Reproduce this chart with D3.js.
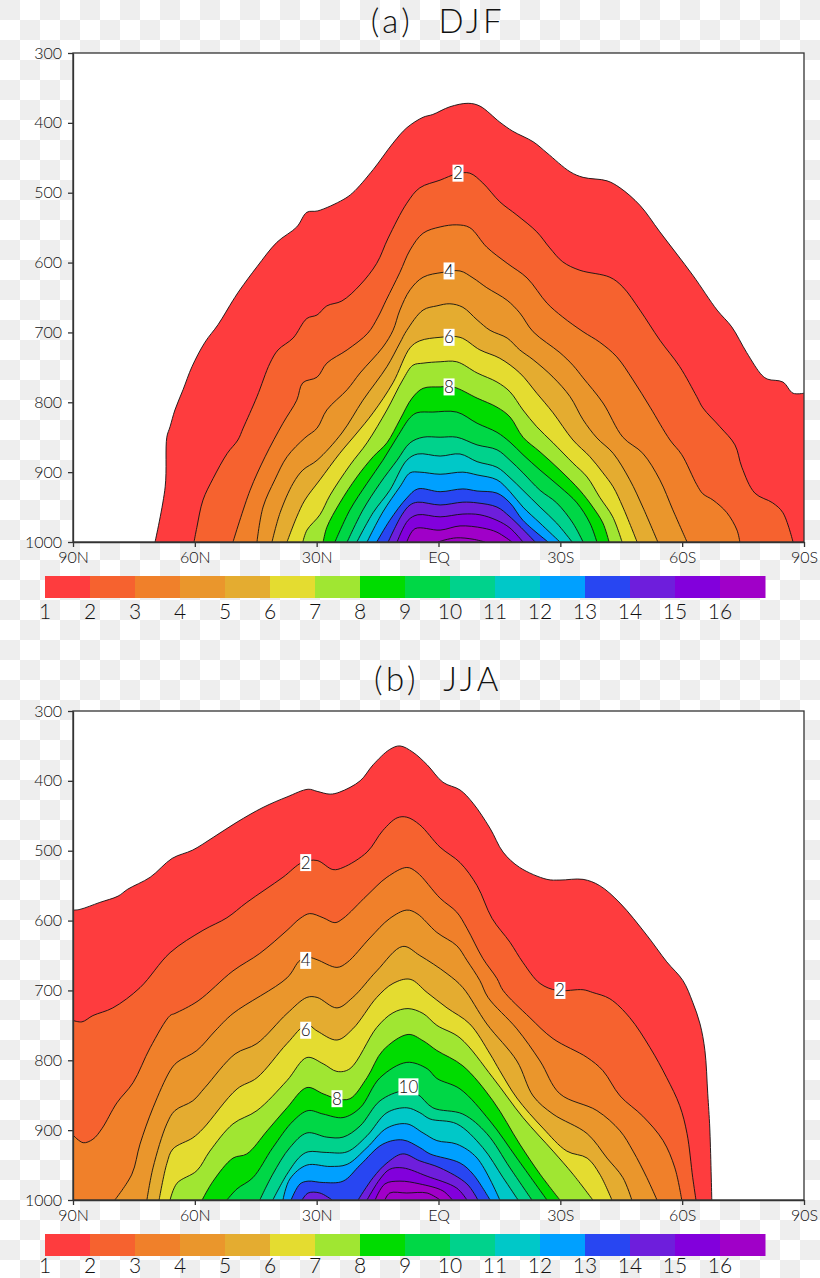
<!DOCTYPE html>
<html>
<head>
<meta charset="utf-8">
<script src="https://cdn.jsdelivr.net/npm/d3@7"></script>
<style>
  body { margin: 0; background: #fff; }
  text { font-family: "Lato", "Inter", sans-serif; font-weight: 300; fill: #111; }
</style>
</head>
<body>
<svg id="chart" width="820" height="1278"></svg>
<script>
// contour levels as [latitude, pressure], north to south
const djf1 = [[69.8,1000],[67.3,921],[66.9,850],[66.1,835],[64.9,811],[62.9,782],[60.7,749],[57.5,714],[54.3,689],[50.6,654],[48.9,639],[44.7,606],[39.8,571],[34.9,549],[32.4,528],[29.7,526],[23.5,510],[21.1,500],[16.1,467],[11.2,429],[7.8,407],[3.8,392],[1.4,388],[-2.8,377],[-7.3,372],[-10.2,376],[-15.1,399],[-18.3,412],[-23.3,427],[-26.7,443],[-32.4,470],[-35.6,478],[-41.5,483],[-44.7,493],[-49.6,518],[-54.5,556],[-62.6,618],[-68.6,668],[-72.2,692],[-75.9,729],[-79.6,761],[-81.1,767],[-84.8,771],[-87.3,787],[-90,787]];
const djf2 = [[60.2,1000],[59.5,979],[58,940],[55.5,909],[52,873],[49.4,854],[48.1,837],[44.7,792],[41.5,744],[39.5,725],[35.8,708],[32.4,680],[29.9,675],[27.5,662],[23.8,655],[19.3,632],[15.2,601],[12.4,565],[7.8,515],[4.6,493],[-0.4,482],[-4.5,473],[-7.7,472],[-10.9,486],[-15.1,513],[-19.3,532],[-24.2,556],[-27.4,579],[-30.6,599],[-34.8,611],[-42.2,621],[-45.4,635],[-49.6,668],[-54.5,711],[-59.4,749],[-63.6,792],[-65.1,808],[-69.3,835],[-73,861],[-74.7,893],[-77.9,930],[-82.3,944],[-84.8,958],[-87.3,1000]];
const djf3 = [[50.6,1000],[46.4,926],[42.7,878],[38.3,830],[34.9,797],[33.4,772],[29.9,764],[27.5,744],[22.5,725],[17.4,701],[14.9,678],[12.9,654],[9.5,614],[7,582],[3.8,558],[-0.4,549],[-4.5,546],[-7.7,550],[-11.9,578],[-16.9,601],[-21.8,622],[-26.7,658],[-30.6,678],[-35.6,699],[-39.7,714],[-43.9,735],[-47.9,768],[-52.1,807],[-57,854],[-59.9,875],[-63.6,918],[-65.1,931],[-67.6,940],[-71,958],[-73.5,983],[-74.2,1000]];
const djf4 = [[44.7,1000],[43.2,950],[40.3,911],[37.3,878],[32.9,851],[29.9,837],[27.5,811],[22.5,782],[19.3,758],[13.7,721],[11.2,697],[9.5,668],[7,639],[3.8,621],[-1.1,614],[-5.3,612],[-8.5,622],[-11.9,636],[-16.9,654],[-20,672],[-23.3,699],[-29.9,729],[-33.1,747],[-35.6,765],[-40.5,801],[-45.4,850],[-50.3,873],[-54.5,911],[-57.7,954],[-61.2,1000]];
const djf5 = [[41,1000],[39,958],[35.8,916],[33.4,897],[29.9,883],[23.8,844],[18.6,797],[12.7,749],[9.5,715],[7.8,697],[3.8,668],[0.4,662],[-2.8,659],[-6,664],[-9.5,682],[-12.7,697],[-16.9,708],[-20,725],[-23.3,739],[-28.2,764],[-32.4,792],[-35.6,825],[-39,851],[-43,873],[-47.1,911],[-50.3,950],[-54,1000]];
const djf6 = [[37.3,1000],[34.9,964],[32.9,940],[29.2,911],[24.3,873],[20.1,844],[16.1,815],[11.2,772],[7,722],[4.6,712],[-0.4,707],[-5.3,707],[-10.2,725],[-15.1,737],[-20,758],[-24.2,787],[-28.2,815],[-33.1,854],[-37.3,878],[-40.5,901],[-43,921],[-45.4,950],[-48.9,1000]];
const djf7 = [[33.4,1000],[32.4,983],[29.2,961],[26.7,933],[21.8,890],[17.6,858],[12.7,811],[8.8,768],[6.3,747],[3.8,744],[-0.4,742],[-4.5,742],[-9.5,758],[-14.4,771],[-17.6,785],[-20.8,811],[-24.2,835],[-28.2,858],[-33.1,887],[-36.6,907],[-39.7,936],[-42.9,964],[-45.2,1000]];
const djf8 = [[28.4,1000],[27.5,979],[24.3,944],[20.1,907],[16.1,878],[12.7,858],[9.5,825],[6.5,794],[3.8,780],[-0.4,778],[-3.6,778],[-9.5,794],[-14.4,807],[-17.6,821],[-20.8,850],[-25,871],[-29.9,897],[-34.8,926],[-38,950],[-40.5,973],[-42,1000]];
const djf9 = [[25.5,1000],[21.8,954],[17.6,916],[13.7,883],[10.2,850],[7,822],[5.3,815],[1.4,814],[-4.5,814],[-9.5,830],[-14.4,843],[-17.6,857],[-20.8,875],[-25,897],[-29.9,921],[-34.1,944],[-37.3,973],[-39,1000]];
const djf10 = [[22.5,1000],[18.6,954],[14.4,916],[10.2,883],[7,858],[3.8,850],[-0.4,850],[-4.5,850],[-9.5,861],[-14.4,868],[-17.6,883],[-20.8,901],[-25,926],[-29.1,944],[-33.1,973],[-35.6,1000]];
const djf11 = [[20.1,1000],[16.1,958],[12,926],[7.8,883],[5.1,874],[-0.4,877],[-5.3,874],[-9.5,885],[-14.4,893],[-17.6,908],[-20.8,926],[-25,950],[-29.1,973],[-32.9,1000]];
const djf12 = [[17.6,1000],[13.7,957],[9.5,921],[7,901],[4.6,900],[-0.4,903],[-6,900],[-9.5,904],[-14.4,911],[-17.6,928],[-20.8,950],[-25,973],[-29.9,1000]];
const djf13 = [[15.2,1000],[12,969],[7.8,937],[5.1,924],[-0.4,928],[-6,924],[-9.5,927],[-14.4,930],[-17.6,944],[-20.8,969],[-27,1000]];
const djf14 = [[12.4,1000],[9,961],[7,947],[5.1,943],[-0.4,947],[-6,943],[-9.5,944],[-14.4,950],[-17.6,964],[-23.8,1000]];
const djf15 = [[10.2,1000],[7.5,969],[5.1,961],[-0.4,964],[-6,960],[-10.2,961],[-14.4,969],[-17.6,980],[-20.8,1000]];
const djf16 = [[7.8,1000],[5.8,981],[-0.4,983],[-5.3,977],[-10.9,980],[-14.4,986],[-18.1,1000]];
const djf17 = [[0.1,1000],[-1.6,997],[-4.5,994],[-8.5,996],[-11.4,1000]];

const jja1 = [[90,585],[88.3,584],[83.4,574],[78.9,565],[76.5,555],[71,538],[65.6,511],[60.5,499],[55.5,481],[49.6,459],[43.2,438],[37.3,423],[32.1,412],[29.9,415],[26.7,419],[24.3,416],[19.3,400],[16.1,377],[12,355],[9.5,350],[6.3,359],[2.8,377],[-1.1,402],[-5.3,413],[-8.5,432],[-12.7,468],[-15.9,502],[-20,524],[-26.7,541],[-29.9,542],[-35.6,541],[-39.7,550],[-44.7,575],[-51.3,621],[-56.2,659],[-60.2,686],[-62.6,717],[-64.4,748],[-65.6,786],[-66.3,848],[-66.8,897],[-67.3,1000]];
const jja2 = [[90,743],[87.8,745],[85.1,736],[80.2,725],[73.5,696],[66.1,646],[58,614],[52.1,596],[47.2,574],[38.3,538],[33.6,517],[29.9,514],[26,527],[23.5,524],[17.6,502],[13.7,471],[10.2,453],[7.8,452],[4.6,463],[-0.4,495],[-5.3,517],[-9.5,550],[-13.2,597],[-17.6,631],[-20.8,660],[-25,690],[-29.2,700],[-35.6,699],[-38,703],[-42.2,712],[-47.1,739],[-52.1,782],[-56.2,825],[-59.4,865],[-61.2,905],[-62.6,968],[-63.4,1000]];
const jja3 = [[90,907],[87.5,918],[85.1,913],[82.9,898],[79.2,861],[75.2,832],[71,782],[66.1,736],[64.9,733],[59.2,715],[50.6,672],[44,647],[37.3,614],[34.1,597],[31.7,590],[28.4,596],[25.5,603],[23.5,597],[17.6,564],[12.7,538],[7.8,524],[5.3,531],[-0.4,568],[-4.5,588],[-7,611],[-10.9,654],[-14.4,683],[-15.9,700],[-22.5,739],[-28.2,769],[-36.6,796],[-40.5,815],[-44.7,851],[-50.3,880],[-55.3,915],[-58.2,954],[-59.9,1000]];
const jja4 = [[79.7,1000],[75.5,963],[73.5,920],[70.3,868],[66.1,815],[64.4,803],[59.5,786],[55,758],[50.6,733],[37.3,682],[34.1,657],[31.7,653],[29.9,656],[25,667],[22.5,660],[16.9,625],[12,597],[7.8,585],[5.3,590],[0.4,617],[-4.5,636],[-7,657],[-10.2,686],[-12.2,710],[-19.3,755],[-25,801],[-29.9,848],[-39,872],[-44.7,901],[-47.9,930],[-51.3,968],[-53.8,1000]];
const jja5 = [[71.8,1000],[70.3,954],[66.9,891],[64.9,872],[60.5,858],[57.5,839],[50.1,791],[44.7,776],[37.3,733],[32.4,710],[29.9,710],[25,725],[21.1,710],[15.2,672],[8.8,637],[4.6,650],[-2.1,676],[-6,696],[-11.9,748],[-19.3,801],[-23.3,851],[-28.2,877],[-36.6,905],[-41.5,940],[-45.4,968],[-47.6,1000]];
const jja6 = [[68.8,1000],[66.9,948],[65.4,927],[60.5,911],[58,898],[49.6,841],[44.7,825],[37.3,776],[32.4,749],[29.9,758],[25,771],[21.1,755],[15.2,710],[11.2,690],[7,684],[2.8,703],[-2.1,725],[-7.7,748],[-12.7,791],[-15.1,815],[-19.3,854],[-25.7,897],[-31.6,930],[-36.6,940],[-39.7,963],[-42.7,1000]];
const jja7 = [[66.1,1000],[64.4,976],[59.5,958],[56.3,930],[50.6,891],[44.7,872],[37.3,829],[32.4,796],[28.4,805],[25,816],[21.8,812],[15.2,753],[11.2,732],[7.5,726],[3.8,733],[0.4,750],[-5.3,768],[-13.4,825],[-20.8,882],[-28.2,930],[-33.1,963],[-38,1000]];
const jja8 = [[58.2,1000],[55.5,973],[50.6,940],[47.2,934],[42.2,901],[37.3,868],[32.4,839],[28.4,848],[25,855],[21.8,855],[17.6,825],[13.7,786],[7.5,763],[3.8,772],[0.4,786],[-6,808],[-13.4,858],[-20,920],[-25,963],[-29.9,1000]];
const jja9 = [[52.1,1000],[49.6,984],[45.7,968],[40.8,925],[35.8,887],[32.1,872],[28.4,877],[23.5,882],[19.3,868],[14.4,825],[7.8,803],[2.8,812],[0.4,826],[-5.3,841],[-12.7,887],[-19.3,940],[-26.7,1000]];
const jja10 = [[44,1000],[40.8,963],[36.6,925],[32.4,904],[27.5,910],[23.5,910],[19.3,894],[14.4,858],[8.8,844],[5.3,848],[1.4,868],[-6,877],[-11.9,905],[-17.6,954],[-23,1000]];
const jja11 = [[40.8,1000],[37.3,963],[34.1,938],[32.1,931],[27.5,932],[22.5,931],[17.6,908],[12.7,875],[7.8,868],[4.6,875],[2.1,884],[-4.5,891],[-10.9,925],[-15.9,968],[-19.6,1000]];
const jja12 = [[38.3,1000],[36.6,970],[32.4,950],[26.7,952],[22.5,949],[17.6,925],[12.7,897],[7.8,891],[3.8,904],[0.4,915],[-4.5,920],[-9.5,940],[-15.1,1000]];
const jja13 = [[36.3,1000],[34.1,977],[32.1,973],[28.4,975],[23.5,973],[19.3,950],[13.7,920],[8.8,914],[4.6,925],[2.1,934],[-5.3,947],[-8.5,963],[-12.7,1000]];
const jja14a = [[33.6,1000],[32.1,990],[29.2,990],[26.2,1000]];
const jja14b = [[19.8,1000],[16.1,968],[12.7,947],[8.8,934],[4.6,944],[-0.4,954],[-7,977],[-9.7,1000]];
const jja15 = [[17.6,1000],[14.4,970],[12,956],[8.8,954],[2.8,966],[-4.5,983],[-7,1000]];
const jja16 = [[15.6,1000],[13.2,977],[9.5,973],[4.6,977],[-1.1,987],[-3.4,1000]];
const jja17 = [[13.2,1000],[12,990],[7.8,990],[2.8,990],[-0.4,1000]];

// colour index of each contour: the band that sits inside it
const djfContours = [djf1,djf2,djf3,djf4,djf5,djf6,djf7,djf8,djf9,djf10,djf11,djf12,djf13,djf14,djf15,djf16,djf17];
const djfBands = [0,1,2,3,4,5,6,7,8,9,10,11,12,13,14,15,15];
const jjaContours = [jja1,jja2,jja3,jja4,jja5,jja6,jja7,jja8,jja9,jja10,jja11,jja12,jja13,jja14a,jja14b,jja15,jja16,jja17];
const jjaBands = [0,1,2,3,4,5,6,7,8,9,10,11,12,13,13,14,15,15];

// contour labels: value, latitude, pressure
const djfLabels = [["2",-4.8,472],["4",-2.6,612],["6",-2.6,707],["8",-2.6,778]];
const jjaLabels = [["2",32.7,517],["4",32.7,657],["6",32.7,757],["8",25,855],["10",7.4,838],["2",-29.9,700]];

const bandColors = ["#fe3c3e","#f6622f","#f0802a","#ea962c","#e4ac30","#e4dc30","#a0e632","#00dc00","#00d746","#00d28c","#00c8c8","#00a0ff","#2846f2","#6e1edc","#8200dc","#a000c8"];
const barLabels = ["1","2","3","4","5","6","7","8","9","10","11","12","13","14","15","16"];
const pressureTicks = [300,400,500,600,700,800,900,1000];
const latTicks = [90,60,30,0,-30,-60,-90];
const latLabels = ["90N","60N","30N","EQ","30S","60S","90S"];

const svg = d3.select("#chart");

// checkered page background
const defs = svg.append("defs");
const checker = defs.append("pattern")
  .attr("id", "checker")
  .attr("width", 40)
  .attr("height", 40)
  .attr("patternUnits", "userSpaceOnUse");
checker.append("rect").attr("width", 40).attr("height", 40).attr("fill", "#fff");
checker.append("rect").attr("width", 20).attr("height", 20).attr("fill", "#eee");
checker.append("rect").attr("x", 20).attr("y", 20).attr("width", 20).attr("height", 20).attr("fill", "#eee");
svg.append("rect").attr("width", 820).attr("height", 1278).attr("fill", "url(#checker)");

const left = 73;
const width = 731;
const height = 489;

const xScale = d3.scaleLinear().domain([90, -90]).range([0, width]);
const yScale = d3.scaleLinear().domain([300, 1000]).range([0, height]);
const barScale = d3.scaleBand().domain(barLabels).range([45, 765]);

const line = d3.line()
  .x((d) => xScale(d[0]))
  .y((d) => yScale(d[1]))
  .curve(d3.curveCatmullRom.alpha(0.5));

function drawPanel(top, title, contours, bands, labels, clipId, barTextGap) {
  d3.select("defs").append("clipPath").attr("id", clipId)
    .append("rect").attr("width", width).attr("height", height);

  svg.append("text")
    .attr("x", 438)
    .attr("y", top - 20)
    .attr("text-anchor", "middle")
    .style("font-size", "33px")
    .style("letter-spacing", "3.6px")
    .style("white-space", "pre")
    .text(title);

  const plot = svg.append("g").attr("transform", `translate(${left},${top})`);
  plot.append("rect").attr("width", width).attr("height", height).attr("fill", "#fff");

  const inner = plot.append("g").attr("clip-path", `url(#${clipId})`);
  contours.forEach((c, i) => {
    const first = c[0];
    const last = c[c.length - 1];
    const area = line(c) +
      `L${xScale(last[0])},${yScale(1000)}L${xScale(first[0])},${yScale(1000)}Z`;
    inner.append("path").attr("d", area).attr("fill", bandColors[bands[i]]);
    inner.append("path")
      .attr("d", line(c))
      .attr("fill", "none")
      .attr("stroke", "#111")
      .attr("stroke-width", 0.9);
  });

  labels.forEach((d) => {
    const w = d[0].length > 1 ? 20 : 11;
    inner.append("rect")
      .attr("x", xScale(d[1]) - w / 2)
      .attr("y", yScale(d[2]) - 8.5)
      .attr("width", w)
      .attr("height", 17)
      .attr("fill", "#fff");
    inner.append("text")
      .attr("x", xScale(d[1]))
      .attr("y", yScale(d[2]) + 6)
      .attr("text-anchor", "middle")
      .style("font-size", "17px")
      .text(d[0]);
  });

  plot.append("rect")
    .attr("width", width)
    .attr("height", height)
    .attr("fill", "none")
    .attr("stroke", "#333")
    .attr("stroke-width", 1.3);

  const yAxis = plot.append("g")
    .call(d3.axisLeft(yScale).tickValues(pressureTicks).tickFormat(d3.format("d")).tickSize(5).tickPadding(6).tickSizeOuter(0));
  const xAxis = plot.append("g")
    .attr("transform", `translate(0,${height})`)
    .call(d3.axisBottom(xScale).tickValues(latTicks).tickFormat((d, i) => latLabels[i]).tickSize(5).tickPadding(5).tickSizeOuter(0));
  [yAxis, xAxis].forEach((a) => {
    a.selectAll("path,line").attr("stroke", "#333").attr("stroke-width", 1.3);
    a.selectAll("text").style("font-size", "16px").attr("fill", null);
    a.attr("font-family", null).attr("font-size", null);
  });

  // label bar below the plot
  const barTop = top + height + 34;
  const bar = svg.append("g");
  bar.selectAll("rect")
    .data(barLabels)
    .enter()
    .append("rect")
    .attr("x", (d) => barScale(d))
    .attr("y", barTop)
    .attr("width", barScale.bandwidth() + 0.5)
    .attr("height", 22)
    .attr("fill", (d, i) => bandColors[i]);
  bar.selectAll("text")
    .data(barLabels)
    .enter()
    .append("text")
    .attr("x", (d) => barScale(d))
    .attr("y", barTop + barTextGap)
    .attr("text-anchor", "middle")
    .style("font-size", "21px")
    .text((d) => d);
}

drawPanel(53, "(a)  DJF", djfContours, djfBands, djfLabels, "clipDjf", 43);
drawPanel(711, "(b)  JJA", jjaContours, jjaBands, jjaLabels, "clipJja", 39);
</script>
</body>
</html>
